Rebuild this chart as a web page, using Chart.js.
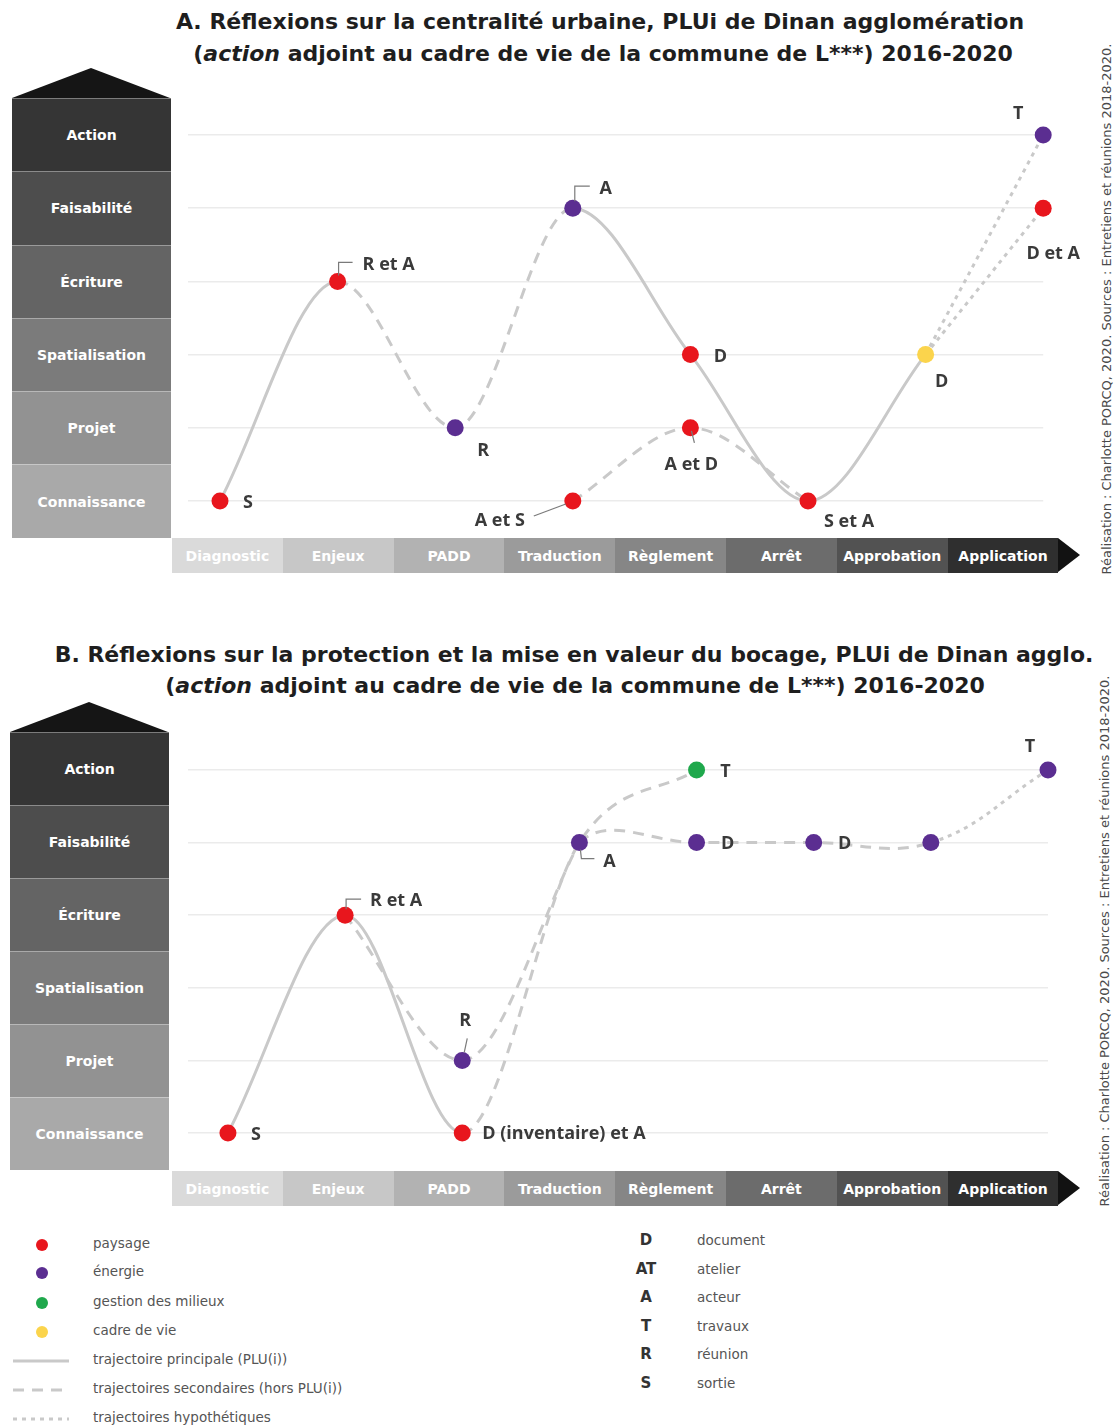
<!DOCTYPE html>
<html lang="fr">
<head>
<meta charset="utf-8">
<title>Trajectoires de réflexion, PLUi de Dinan agglomération</title>
<script src="https://cdn.jsdelivr.net/npm/chart.js@4.4.1/dist/chart.umd.min.js"></script>
<style>
  body { margin: 0; background: #fff; font-family: "DejaVu Sans", sans-serif; }
  #page { position: relative; width: 1117px; height: 1427px; overflow: hidden; }
  .title { position: absolute; transform: translateX(-50%); white-space: nowrap;
           font-weight: bold; font-size: 22px; line-height: 28px; color: #1e1e1e; }
  .pyramid { position: absolute; width: 159px; }
  .pyramid .roof { width: 0; height: 0; border-left: 79.5px solid transparent;
                   border-right: 79.5px solid transparent; border-bottom: 30px solid #151515; }
  .pyramid .lvl { display: flex; align-items: center; justify-content: center; color: #fff;
                  font-weight: bold; font-size: 14px; border-top: 1px solid rgba(255,255,255,0.35);
                  box-sizing: border-box; }
  .phasebar { position: absolute; left: 172px; height: 35px; display: flex; }
  .phasebar .ph { width: 110.8px; display: flex; align-items: center; justify-content: center;
                  color: #fff; font-weight: bold; font-size: 14px; }
  .phasebar .tip { width: 0; height: 0; border-top: 17.5px solid transparent;
                   border-bottom: 17.5px solid transparent; border-left: 22px solid #121212; }
  canvas { position: absolute; z-index: 2; }
  .credit { position: absolute; transform: translate(-50%, -50%) rotate(-90deg); white-space: nowrap;
            font-size: 13px; color: #4a4a4a; }
  .leg { position: absolute; font-size: 13.5px; color: #555; white-space: nowrap; }
  .legcode { position: absolute; width: 40px; text-align: center; font-weight: bold; font-size: 15px; color: #333; }
</style>
</head>
<body>
<div id="page">
  <div class="title" style="left:600px; top:8px;">A. Réflexions sur la centralité urbaine, PLUi de Dinan agglomération</div>
  <div class="title" style="left:603px; top:40px;">(<i>action</i> adjoint au cadre de vie de la commune de L***) 2016-2020</div>
  <div class="title" style="left:574px; top:641px;">B. Réflexions sur la protection et la mise en valeur du bocage, PLUi de Dinan agglo.</div>
  <div class="title" style="left:575px; top:672px;">(<i>action</i> adjoint au cadre de vie de la commune de L***) 2016-2020</div>

  <div class="credit" style="left:1106px; top:309px;">Réalisation : Charlotte PORCQ, 2020. Sources : Entretiens et réunions 2018-2020.</div>
  <div class="credit" style="left:1104px; top:941px;">Réalisation : Charlotte PORCQ, 2020. Sources : Entretiens et réunions 2018-2020.</div>

  <canvas id="chartA" width="920" height="480" style="left:172px; top:80px;"></canvas>
  <canvas id="chartB" width="920" height="480" style="left:172px; top:712px;"></canvas>
</div>

<script>
// axes : niveaux de réflexion (bas -> haut) et phases du PLUi
const levels = ['Connaissance', 'Projet', 'Spatialisation', 'Écriture', 'Faisabilité', 'Action'];
const phases = ['Diagnostic', 'Enjeux', 'PADD', 'Traduction', 'Règlement', 'Arrêt', 'Approbation', 'Application'];

// légende
const themes = ['paysage', 'énergie', 'gestion des milieux', 'cadre de vie'];
const kinds = ['principale', 'secondaire', 'hypothétique'];
const kindNames = ['trajectoire principale (PLU(i))', 'trajectoires secondaires (hors PLU(i))', 'trajectoires hypothétiques'];
const codes = ['D', 'AT', 'A', 'T', 'R', 'S'];
const codeNames = ['document', 'atelier', 'acteur', 'travaux', 'réunion', 'sortie'];

// A. centralité urbaine - jalons
const aPtPhase = [0, 1, 2, 3, 3, 4, 4, 5, 6, 7, 7];
const aPtLevel = [0, 3, 1, 4, 0, 2, 1, 0, 2, 5, 4];
const aPtTheme = ['paysage', 'paysage', 'énergie', 'énergie', 'paysage', 'paysage', 'paysage', 'paysage', 'cadre de vie', 'énergie', 'paysage'];
const aPtCode = ['S', 'R et A', 'R', 'A', 'A et S', 'D', 'A et D', 'S et A', 'D', 'T', 'D et A'];

// A. trajectoires
const aMainPhase = [0, 1, 2, 3, 4, 5, 6];
const aMainLevel = [0, 3, 1, 4, 2, 0, 2];
const aMainKind = ['principale', 'secondaire', 'secondaire', 'principale', 'principale', 'principale'];
const aSecPhase = [3, 4, 5];
const aSecLevel = [0, 1, 0];
const aHypPhase = [6, 7];
const aHypLevelT = [2, 5];
const aHypLevelD = [2, 4];

// B. bocage - jalons
const bPtPhase = [0, 1, 2, 2, 3, 4, 4, 5, 6, 7];
const bPtLevel = [0, 3, 1, 0, 4, 5, 4, 4, 4, 5];
const bPtTheme = ['paysage', 'paysage', 'énergie', 'paysage', 'énergie', 'gestion des milieux', 'énergie', 'énergie', 'énergie', 'énergie'];
const bPtCode = ['S', 'R et A', 'R', 'D (inventaire) et A', 'A', 'T', 'D', 'D', '', 'T'];

// B. trajectoires
const bMainPhase = [0, 1, 2, 3, 4];
const bMainLevel = [0, 3, 0, 4, 5];
const bMainKind = ['principale', 'principale', 'secondaire', 'secondaire'];
const bSecPhase = [1, 2, 3];
const bSecLevel = [3, 1, 4];
const bDocPhase = [2, 3, 4, 5, 6, 7];
const bDocLevel = [1, 4, 4, 4, 4, 5];
const bDocKind = ['guide', 'secondaire', 'secondaire', 'secondaire', 'hypothétique']; // 1er segment : sert juste a courber

// styles
const themeColour = { 'paysage': '#e8161d', 'énergie': '#5b2e91', 'gestion des milieux': '#1fa84c', 'cadre de vie': '#fbd44c' };
const kindDash = { 'principale': [], 'secondaire': [11, 8], 'hypothétique': [4, 5], 'guide': [] };
const lineGrey = '#c9c9c9';
const levelShades = ['#a9a9a9', '#929292', '#7b7b7b', '#646464', '#4d4d4d', '#353535'];
const phaseShades = ['#dadada', '#c7c7c7', '#b2b2b2', '#9b9b9b', '#868686', '#6c6c6c', '#525252', '#2f2f2f'];

// placement des codes : [dx, dy, alignement, trait de rappel]
const aPlace = [
  [28, 2, 'center'],
  [25, -17, 'left', [[1, -6], [1, -19], [15, -19]]],
  [28, 23, 'center'],
  [33, -19, 'center', [[2, -7], [2, -22], [17, -22]]],
  [-73, 20, 'center', [[-39, 15], [-7, 3]]],
  [30, 2, 'center'],
  [1, 37, 'center', [[1, 3], [4, 15]]],
  [41, 21, 'center'],
  [16, 27, 'center'],
  [-25, -21, 'center'],
  [10, 46, 'center']
];
const bPlace = [
  [28, 2, 'center'],
  [25, -14, 'left', [[1, -6], [1, -16], [16, -16]]],
  [3, -40, 'center', [[2, -8], [5, -22]]],
  [20, 1, 'left'],
  [30, 19, 'center', [[1, 7], [2, 16], [15, 16]]],
  [29, 2, 'center'],
  [31, 1, 'center'],
  [31, 1, 'center'],
  [0, 0, 'center'],
  [-18, -23, 'center']
];

function pts(xs, ys) {
  return xs.map((x, i) => ({ x: x, y: ys[i] }));
}

function pathDataset(xs, ys, kindList, mode) {
  return {
    data: pts(xs, ys),
    borderColor: lineGrey,
    borderWidth: 3,
    pointRadius: 0,
    pointHoverRadius: 0,
    clip: false,
    tension: 0.4,
    cubicInterpolationMode: mode,
    segment: {
      borderDash: ctx => kindDash[kindList[ctx.p0DataIndex]],
      borderColor: ctx => kindList[ctx.p0DataIndex] === 'guide' ? 'rgba(0,0,0,0)' : undefined
    }
  };
}

function same(kind, n) {
  return Array.from({ length: n }, () => kind);
}

// codes (S, R, A...) a cote des jalons
const codeLabels = {
  id: 'codeLabels',
  afterDatasetsDraw(chart) {
    const ds = chart.data.datasets[0];
    const meta = chart.getDatasetMeta(0);
    const ctx = chart.ctx;
    ctx.save();
    ctx.font = 'bold 18px "Open Sans"';
    ctx.fillStyle = '#3a3a3a';
    ctx.strokeStyle = '#7a7a7a';
    ctx.lineWidth = 1.2;
    ctx.textBaseline = 'middle';
    meta.data.forEach((el, i) => {
      const txt = ds.codes[i];
      if (!txt) return;
      const p = ds.place[i];
      if (p[3]) {
        ctx.beginPath();
        p[3].forEach((q, k) => {
          if (k === 0) ctx.moveTo(el.x + q[0], el.y + q[1]);
          else ctx.lineTo(el.x + q[0], el.y + q[1]);
        });
        ctx.stroke();
      }
      ctx.textAlign = p[2];
      ctx.fillText(txt, el.x + p[0], el.y + p[1]);
    });
    ctx.restore();
  }
};

function makePanel(id, xMin, xMax, pad, ptX, ptY, ptTheme, ptCode, place, paths) {
  const pointSet = {
    data: pts(ptX, ptY),
    showLine: false,
    pointRadius: 8.5,
    pointHoverRadius: 8.5,
    pointBorderWidth: 0,
    pointBackgroundColor: ptTheme.map(t => themeColour[t]),
    clip: false,
    codes: ptCode,
    place: place
  };
  return new Chart(document.getElementById(id), {
    type: 'line',
    data: { datasets: [pointSet].concat(paths) },
    options: {
      responsive: false,
      animation: false,
      events: [],
      layout: { padding: pad },
      plugins: { legend: { display: false }, tooltip: { enabled: false } },
      scales: {
        x: { type: 'linear', display: false, min: xMin, max: xMax },
        y: {
          min: -0.5, max: 5.5,
          border: { display: false },
          ticks: { display: false },
          grid: { color: '#ebebeb', lineWidth: 1.5, drawTicks: false },
          afterBuildTicks: axis => { axis.ticks = levels.map((_, i) => ({ value: i })); }
        }
      }
    },
    plugins: [codeLabels]
  });
}

makePanel('chartA', -0.272, 7, { left: 16, right: 48.8, top: 18.4, bottom: 22.4 },
  aPtPhase, aPtLevel, aPtTheme, aPtCode, aPlace, [
    pathDataset(aMainPhase, aMainLevel, aMainKind, 'monotone'),
    pathDataset(aSecPhase, aSecLevel, same('secondaire', 2), 'monotone'),
    pathDataset(aHypPhase, aHypLevelT, ['hypothétique'], 'default'),
    pathDataset(aHypPhase, aHypLevelD, ['hypothétique'], 'default')
  ]);

makePanel('chartB', -0.341, 7, { left: 16, right: 44, top: 21.7, bottom: 22.7 },
  bPtPhase, bPtLevel, bPtTheme, bPtCode, bPlace, [
    pathDataset(bMainPhase, bMainLevel, bMainKind, 'monotone'),
    pathDataset(bSecPhase, bSecLevel, same('secondaire', 2), 'monotone'),
    pathDataset(bDocPhase, bDocLevel, bDocKind, 'default')
  ]);

// decor : pyramide des niveaux et fleche des phases
const page = document.getElementById('page');

function addPyramid(left, roofTop, boxH) {
  const el = document.createElement('div');
  el.className = 'pyramid';
  el.style.left = left + 'px';
  el.style.top = roofTop + 'px';
  let html = '<div class="roof"></div>';
  for (let i = levels.length - 1; i >= 0; i--) {
    html += '<div class="lvl" style="height:' + boxH + 'px;background:' + levelShades[i] + '">' + levels[i] + '</div>';
  }
  el.innerHTML = html;
  page.appendChild(el);
}

function addPhaseBar(top) {
  const el = document.createElement('div');
  el.className = 'phasebar';
  el.style.top = top + 'px';
  el.innerHTML = phases.map((p, i) => '<div class="ph" style="background:' + phaseShades[i] + '">' + p + '</div>').join('')
    + '<div class="tip"></div>';
  page.appendChild(el);
}

addPyramid(12, 68, 73.3);
addPhaseBar(538);
addPyramid(10, 702, 73);
addPhaseBar(1171);

// legende
const legLeftY = [1245, 1273, 1303, 1332, 1361, 1390, 1419];
themes.forEach((t, i) => {
  page.insertAdjacentHTML('beforeend',
    '<svg style="position:absolute;left:34px;top:' + (legLeftY[i] - 8) + 'px" width="16" height="16"><circle cx="8" cy="8" r="6" fill="' + themeColour[t] + '"/></svg>' +
    '<div class="leg" style="left:93px;top:' + (legLeftY[i] - 10) + 'px">' + t + '</div>');
});
kinds.forEach((k, i) => {
  const y = legLeftY[themes.length + i];
  const dash = kindDash[k].length ? kindDash[k].join(',') : 'none';
  page.insertAdjacentHTML('beforeend',
    '<svg style="position:absolute;left:12px;top:' + (y - 4) + 'px" width="60" height="8"><line x1="1" y1="4" x2="57" y2="4" stroke="' + lineGrey + '" stroke-width="3" stroke-dasharray="' + dash + '"/></svg>' +
    '<div class="leg" style="left:93px;top:' + (y - 10) + 'px">' + kindNames[i] + '</div>');
});
const legRightY = [1242, 1271, 1299, 1328, 1356, 1385];
codes.forEach((c, i) => {
  page.insertAdjacentHTML('beforeend',
    '<div class="legcode" style="left:626px;top:' + (legRightY[i] - 11) + 'px">' + c + '</div>' +
    '<div class="leg" style="left:697px;top:' + (legRightY[i] - 10) + 'px">' + codeNames[i] + '</div>');
});
</script>
</body>
</html>
